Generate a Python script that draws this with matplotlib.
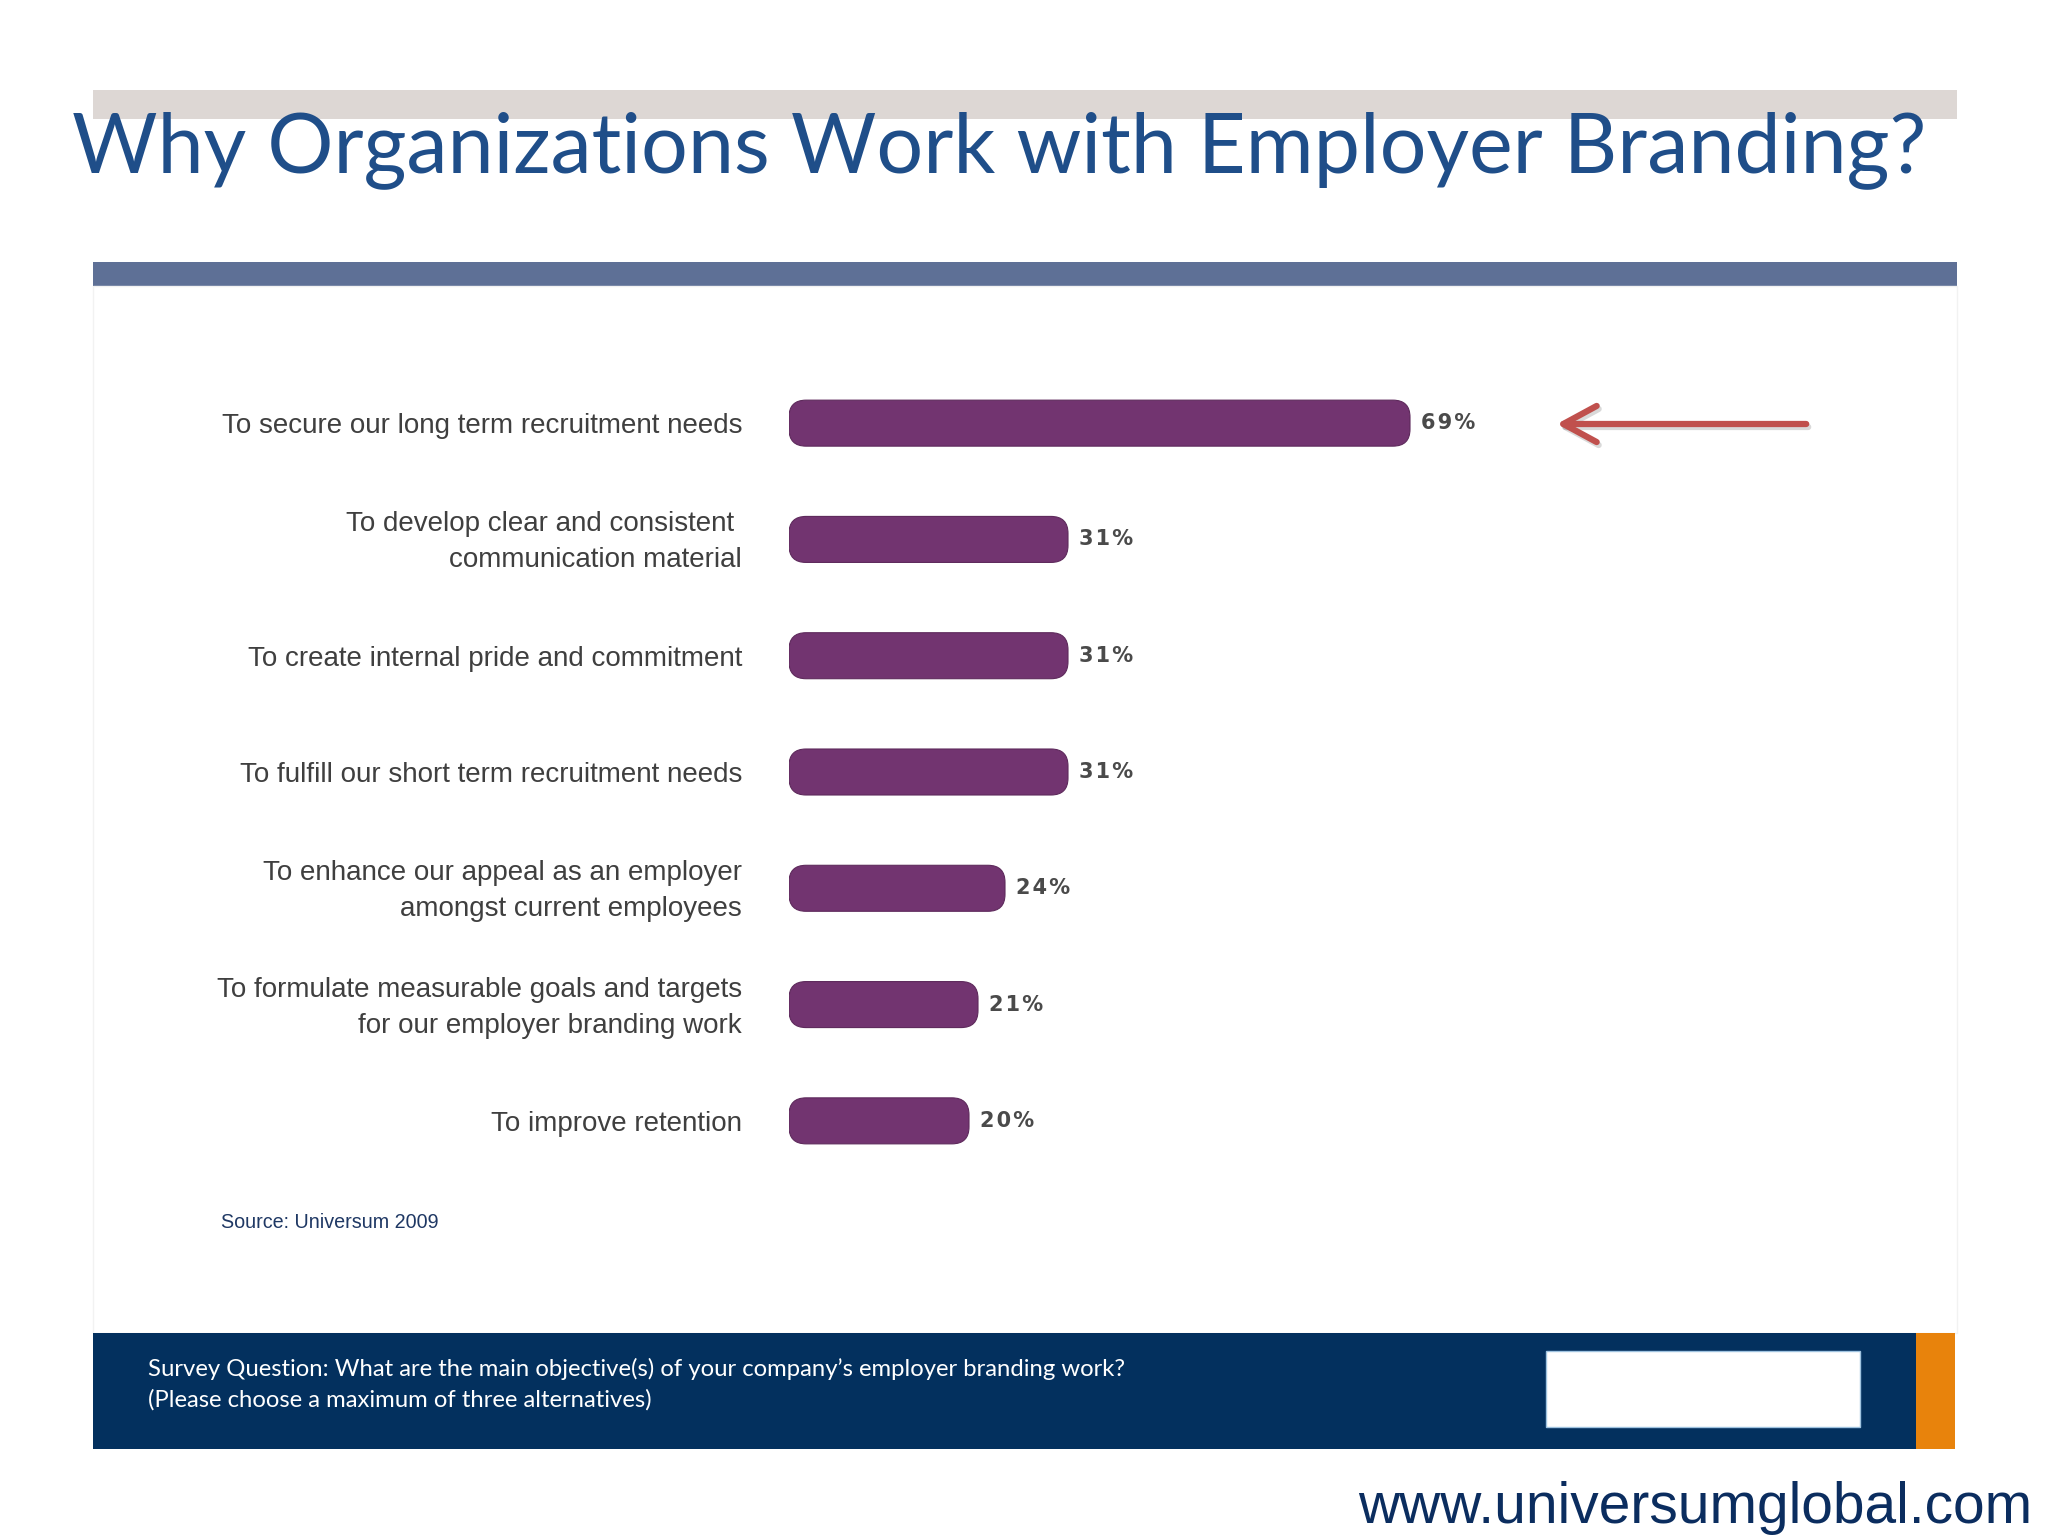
import matplotlib
matplotlib.use("Agg")
import matplotlib.pyplot as plt
from matplotlib.patches import Rectangle, FancyBboxPatch, FancyArrowPatch, ArrowStyle

# Survey results (Universum 2009)
categories = [
    "To secure our long term recruitment needs",
    "To develop clear and consistent \ncommunication material",
    "To create internal pride and commitment",
    "To fulfill our short term recruitment needs",
    "To enhance our appeal as an employer\namongst current employees",
    "To formulate measurable goals and targets\nfor our employer branding work",
    "To improve retention",
]
values = [69, 31, 31, 31, 24, 21, 20]
value_labels = ["69%", "31%", "31%", "31%", "24%", "21%", "20%"]

title = "Why Organizations Work with Employer Branding?"
source = "Source: Universum 2009"
question = ("Survey Question: What are the main objective(s) of your company\u2019s employer branding work?\n"
            "(Please choose a maximum of three alternatives)")
url = "www.universumglobal.com"

W, H = 2048, 1536
BAR_COLOR = "#723470"


def fx(px):
    return px / W


def fy(py):
    return 1 - py / H


def fit_width(fig, txt, target_px):
    # scale a text's font size so it spans target_px
    r = fig.canvas.get_renderer()
    w = txt.get_window_extent(renderer=r).width
    txt.set_fontsize(txt.get_fontsize() * target_px / w)


def add_rect(fig, x0, y0, x1, y1, **kw):
    fig.add_artist(Rectangle((fx(x0), fy(y1)), fx(x1) - fx(x0), fy(y0) - fy(y1),
                             transform=fig.transFigure, **kw))


fig = plt.figure(figsize=(W / 100, H / 100), dpi=100)
fig.patch.set_facecolor("white")

# slide decoration
add_rect(fig, 93, 90, 1957, 119, color="#DDD7D4", lw=0)
add_rect(fig, 93, 262, 1957, 286, color="#5E7096", lw=0)
add_rect(fig, 93, 286, 1957, 1333, facecolor="none", edgecolor="#F2F2F2", lw=1)
add_rect(fig, 93, 1333, 1916, 1449, color="#03305E", lw=0)
add_rect(fig, 1916, 1333, 1955, 1449, color="#E8830C", lw=0)
add_rect(fig, 1546, 1351, 1860, 1427, facecolor="white", edgecolor="#9FC3E0", lw=1)

t = fig.text(fx(72), fy(172), title, fontsize=60, family="Lato", color="#1F4E89",
             ha="left", va="baseline")
fit_width(fig, t, 1857)

# chart
ax_left, ax_right, ax_top, ax_bot = 789, 1689, 365, 1179
ax = fig.add_axes([fx(ax_left), fy(ax_bot), fx(ax_right) - fx(ax_left), fy(ax_top) - fy(ax_bot)])
ax.set_xlim(0, 100)
ax.set_ylim(len(values) - 0.5, -0.5)
ax.axis("off")

px_per_x = (ax_right - ax_left) / 100
px_per_y = (ax_bot - ax_top) / len(values)
bar_h = 46 / px_per_y
radius_px = 17

bars = ax.barh(range(len(values)), values, height=bar_h, color=BAR_COLOR)
for b in bars:
    x0, y0 = b.get_x(), b.get_y()
    w, h = b.get_width(), b.get_height()
    b.set_visible(False)
    ax.add_patch(FancyBboxPatch((x0, y0), w, h,
                                boxstyle=f"round,pad=0,rounding_size={radius_px / px_per_x}",
                                mutation_aspect=px_per_x / px_per_y,
                                facecolor=BAR_COLOR, edgecolor="#5E2A5C", lw=0.8))

for i, (v, lab) in enumerate(zip(values, value_labels)):
    ax.text(v + 11 / px_per_x, i, "\u200a".join(lab), va="center", ha="left", fontsize=15,
            fontweight="bold", color="#4A4A4A", family="DejaVu Sans")

for i, cat in enumerate(categories):
    ax.text(-(ax_left - 742) / px_per_x, i + 3 / px_per_y, cat, ha="right", va="center",
            fontsize=20, family="Liberation Sans", color="#3F3F3F", linespacing=1.5)

# arrow pointing at the top bar
arrow_kw = dict(arrowstyle=ArrowStyle("->", head_length=24, head_width=13),
                mutation_scale=1, lw=4.5, transform=fig.transFigure)
fig.add_artist(FancyArrowPatch((fx(1811), fy(427)), (fx(1556), fy(427)),
                               color="#000000", alpha=0.15, **arrow_kw))
fig.add_artist(FancyArrowPatch((fx(1809), fy(424)), (fx(1554), fy(424)),
                               color="#C0504D", **arrow_kw))

fig.text(fx(221), fy(1222), source, fontsize=14.2, family="Liberation Sans",
         color="#1F3864", ha="left", va="center")

q = fig.text(fx(148), fy(1384), question, fontsize=17, family="Lato", color="white",
             ha="left", va="center", linespacing=1.5)
fit_width(fig, q, 977)

u = fig.text(fx(1358), fy(1523), url, fontsize=40, family="Liberation Sans",
             color="#0B2D5F", ha="left", va="baseline")
fit_width(fig, u, 673)

fig.savefig("out.png", dpi=100, facecolor="white")
